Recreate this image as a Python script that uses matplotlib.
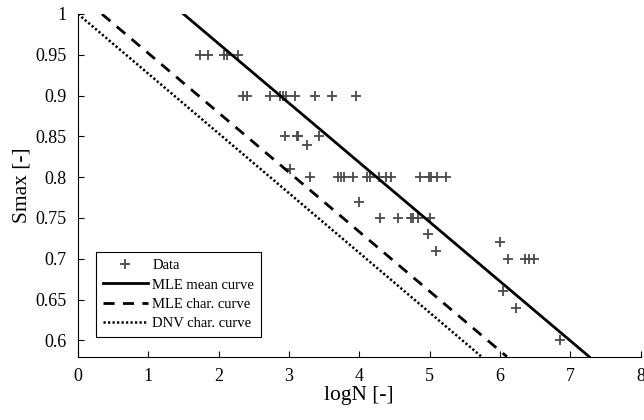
import numpy as np
from matplotlib import pyplot as plt

plt.rcParams["font.family"] = ["Liberation Serif", "DejaVu Serif"]

# test data (logN, Smax)
data_logN = [
    1.73, 1.85, 2.07, 2.12, 2.28,
    2.35, 2.40, 2.73, 2.87, 2.92, 2.96, 3.09, 3.37, 3.61, 3.96,
    2.94, 3.11, 3.13, 3.43, 3.25, 3.01,
    3.30, 3.70, 3.74, 3.79, 3.91, 4.11, 4.15, 4.28, 4.38, 4.45, 4.86, 4.99, 5.02, 5.11, 5.23,
    4.00,
    4.30, 4.55, 4.73, 4.77, 4.84, 5.01,
    4.98, 5.09, 6.00,
    6.11, 6.36, 6.41, 6.49,
    6.04, 6.23, 6.86,
]
data_S = [
    0.95, 0.95, 0.95, 0.95, 0.95,
    0.90, 0.90, 0.90, 0.90, 0.90, 0.90, 0.90, 0.90, 0.90, 0.90,
    0.85, 0.85, 0.85, 0.85, 0.84, 0.81,
    0.80, 0.80, 0.80, 0.80, 0.80, 0.80, 0.80, 0.80, 0.80, 0.80, 0.80, 0.80, 0.80, 0.80, 0.80,
    0.77,
    0.75, 0.75, 0.75, 0.75, 0.75, 0.75,
    0.73, 0.71, 0.72,
    0.70, 0.70, 0.70, 0.70,
    0.66, 0.64, 0.60,
]

# S-N curves, end points
curve_S = [1.0, 0.58]
mean_logN = [1.50, 7.27]
char_logN = [0.34, 6.10]
dnv_logN = [0.0, 5.74]

fig = plt.figure(figsize=(6.44, 4.2), dpi=100)
ax = fig.add_axes([0.1211, 0.1507, 0.8735, 0.816])

ax.plot(data_logN, data_S, "+", color="#4a4a4a", markersize=7.5, markeredgewidth=1.3,
        label="Data", clip_on=False)
ax.plot(mean_logN, curve_S, "-", color="black", lw=2.0, label="MLE mean curve")
ax.plot(char_logN, curve_S, color="black", lw=2.0, dashes=(4, 3), label="MLE char. curve")
ax.plot(dnv_logN, curve_S, color="black", lw=1.8, dashes=(0.9, 0.9), label="DNV char. curve")

ax.set_xlim(0, 8)
ax.set_ylim(0.58, 1)
ax.set_xticks(range(0, 9))
ax.set_yticks([0.6, 0.65, 0.7, 0.75, 0.8, 0.85, 0.9, 0.95, 1])
ax.set_yticklabels(["0.6", "0.65", "0.7", "0.75", "0.8", "0.85", "0.9", "0.95", "1"])
ax.spines["top"].set_visible(False)
ax.spines["right"].set_visible(False)
ax.tick_params(direction="in", length=4, width=0.8, labelsize=13, pad=8)
ax.set_xlabel("logN [-]", fontsize=15.5, labelpad=1)
ax.set_ylabel("Smax [-]", fontsize=15.5, labelpad=3)

leg = ax.legend(loc="lower left", bbox_to_anchor=(0.032, 0.058), borderaxespad=0,
                fontsize=10.5, fancybox=False, edgecolor="black", framealpha=1,
                handlelength=3.1, handletextpad=0.3, labelspacing=0.42, borderpad=0.45)
leg.get_frame().set_linewidth(0.8)

fig.savefig("out.png", dpi=100)
